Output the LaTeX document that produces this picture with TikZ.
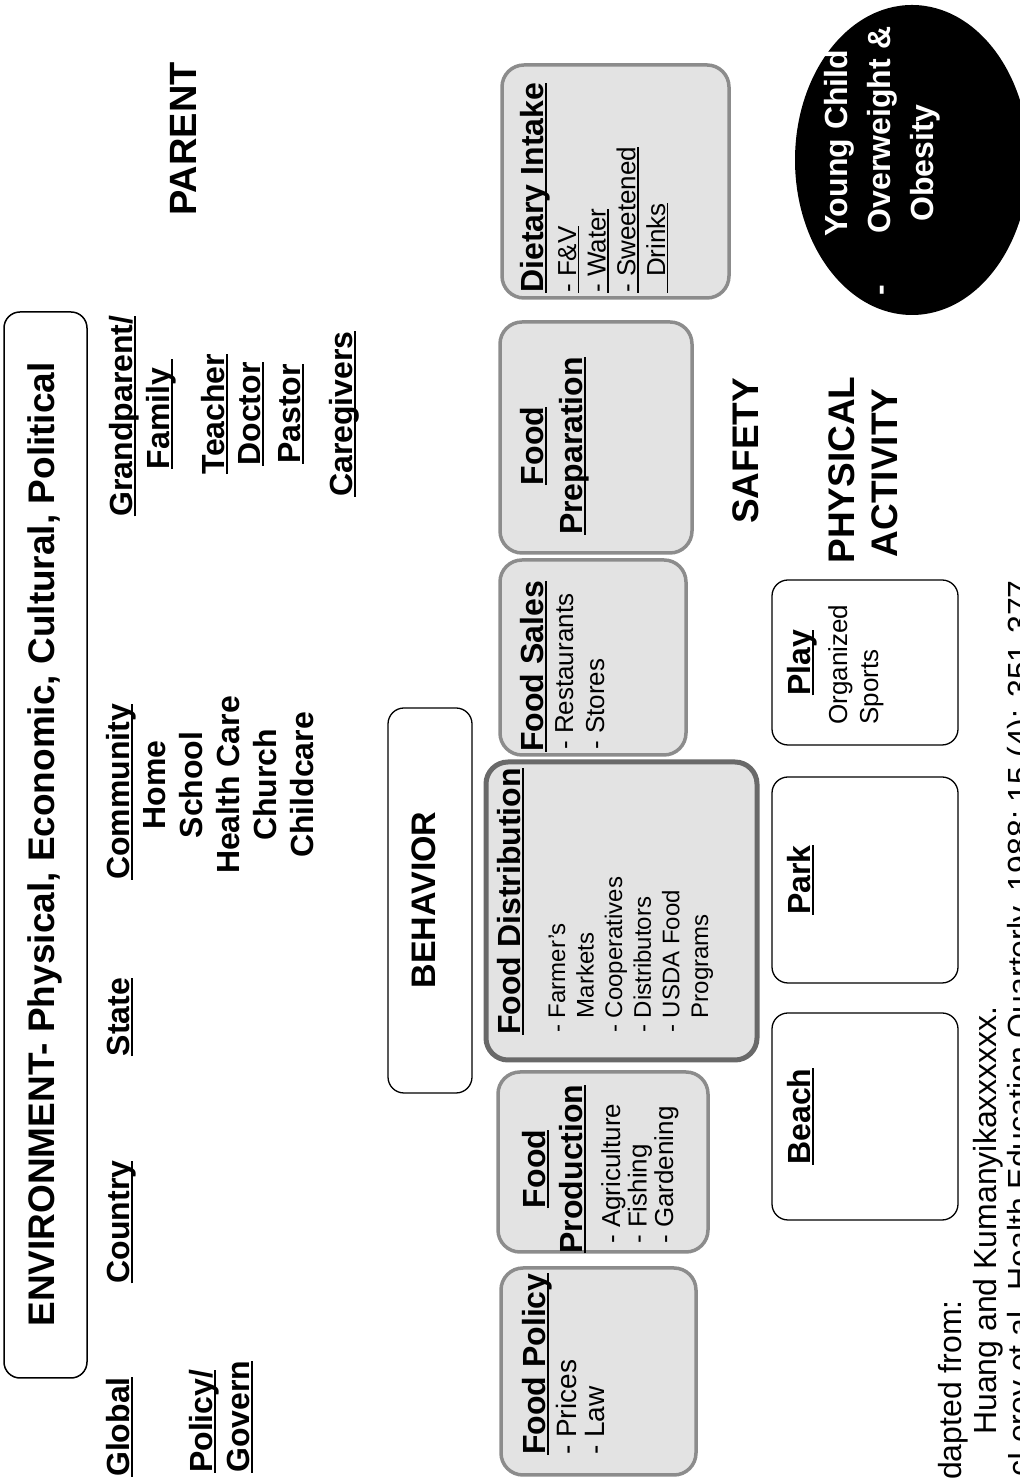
\documentclass[tikz,border=0pt]{standalone}
\usepackage{fontspec}
\setmainfont{Liberation Sans}
\usepackage{tikz}
\usetikzlibrary{shapes.geometric}
\definecolor{boxfill}{HTML}{E3E3E3}
\definecolor{boxedge}{HTML}{8C8C8C}
\newcommand{\uln}[1]{\setbox0\hbox{#1}\rlap{\rule[-0.13em]{\wd0}{0.07em}}\box0}
\tikzset{
  box/.style={draw=black, line width=1.3pt, rounded corners=16pt, fill=white, inner sep=0pt},
  gbox/.style={draw=boxedge, line width=3.5pt, rounded corners=22pt, fill=boxfill, inner sep=0pt},
  lab/.style={font=\fontsize{32}{36}\selectfont\bfseries, inner sep=0pt, anchor=base},
  big/.style={font=\fontsize{#1}{#1}\selectfont\bfseries, inner sep=0pt, anchor=base},
  big/.default=37,
  itm/.style={font=\fontsize{#1}{#1}\selectfont, inner sep=0pt, anchor=base west},
  itm/.default=25,
  cite/.style={font=\fontsize{32}{36}\selectfont, inner sep=0pt, anchor=base east},
}

\begin{document}
\begin{tikzpicture}[x=1pt, y=1pt]
\begin{scope}[rotate=90, transform shape]
  \useasboundingbox (0,0) rectangle (1478,-1020);
  \clip (0,0) rectangle (1478,-1020);
  % environment
  \node[box, line width=1.5pt, minimum width=1066, minimum height=83] (env) at (633,-45.5) {};
  \node[big] (envT) at (633.5,-54.5) {ENVIRONMENT- Physical, Economic, Cultural, Political};
  \node[lab, anchor=base west] (global) at (1,-129) {\uln{Global}};
  \foreach \n/\t/\x in {country/Country/256, state/State/461, community/Community/686}
    \node[lab] (\n) at (\x,-129) {\uln{\t}};
  \node[lab, anchor=base west] (policyG) at (5,-212) {\uln{Policy/}};
  \node[lab, anchor=base west] (govern) at (5,-249) {\uln{Govern}};
  \foreach \t [count=\i] in {Home,School,Health Care,Church,Childcare}
    \node[lab] (comm\i) at (693,{-165-37*(\i-1)}) {\t};
  \node[lab] (grand) at (1062,-132) {\uln{Grandparent/}};
  \node[lab] (family) at (1064,-169) {\uln{Family\ }};
  \foreach \n/\t/\y in {teacher/Teacher/224, doctor/Doctor/260, pastor/Pastor/300, care/Caregivers/352}
    \node[lab] (\n) at (1064,-\y) {\uln{\t}};
  \node[big=38] (parent) at (1339,-196) {PARENT};
  % behavior
  \node[box, minimum width=385, minimum height=84] (behav) at (577.5,-430) {};
  \node[big=34] (behavT) at (578,-435) {BEHAVIOR};
  \foreach \n/\xa/\xb/\ya/\yb in {policy/3/210/501/696, production/226/406/498/708,
      sales/723/918/500/686, prep/925/1156/500/692, diet/1180/1413/502/729}
    \node[gbox, minimum width=\xb-\xa, minimum height=\yb-\ya] (\n) at ({(\xa+\xb)/2},{-(\ya+\yb)/2}) {};
  \node[gbox, draw=boxedge!75!black, line width=5pt, minimum width=298, minimum height=271] (distrib) at (567,-621.5) {};
  \node[lab, anchor=base west] (policyT) at (23,-545) {\uln{Food Policy}};
  \node[itm=28] (prices) at (23,-576) {- Prices};
  \node[itm=28] (law) at (23,-604) {- Law};
  \node[lab] (prodT) at (309,-545) {\uln{Food}};
  \node[lab] (prodT2) at (309,-582) {\uln{Production}};
  \foreach \t [count=\i] in {Agriculture,Fishing,Gardening}
    \node[itm=26] (prod\i) at (234,{-620-26.5*(\i-1)}) {- \t};
  \node[lab, anchor=base west] (distT) at (443,-520) {\uln{Food Distribution}};
  \foreach \t [count=\i] in {- Farmer's,\hphantom{- }Markets,- Cooperatives,- Distributors,- USDA Food,\hphantom{- }Programs}
    \node[itm=24] (dist\i) at (445,{-565-28.6*(\i-1)}) {\t};
  \node[lab, anchor=base west] (salesT) at (726,-543) {\uln{Food Sales}};
  \node[itm=26] (rest) at (728,-573) {- Restaurants};
  \node[itm=26] (stores) at (728,-604) {- Stores};
  \node[lab] (prepT) at (1032,-543) {\uln{Food}};
  \node[lab] (prepT2) at (1032,-582) {\uln{Preparation}};
  \node[lab, anchor=base west] (dietT) at (1185,-543) {\uln{Dietary Intake}};
  \foreach \t [count=\i] in {- F\&V,- Water,- Sweetened,\hphantom{- }Drinks}
    \node[itm=26] (diet\i) at (1185,{-576-29.7*(\i-1)}) {\uln{\t}};
  % places
  \foreach \n/\t/\xa/\xb in {beach/Beach/258/465, park/Park/495/701, play/Play/733/898}{
    \node[box, minimum width=\xb-\xa, minimum height=186] (\n) at ({(\xa+\xb)/2},-865) {};
    \node[lab] (\n T) at ({(\xa+\xb)/2},-810) {\uln{\t}};
  }
  \node[itm=26] (organized) at (753,-847) {Organized};
  \node[itm=26] (sports) at (753,-878) {Sports};
  \node[big] (safety) at (1027,-758) {SAFETY};
  \node[big] (physical) at (1008,-854) {PHYSICAL};
  \node[big] (activity) at (1005,-897) {ACTIVITY};
  % outcome
  \node[ellipse, fill=black, inner sep=0pt, minimum width=310, minimum height=234] (child) at (1318,-912) {};
  \node[lab, text=white] (young) at (1335,-847) {Young Child};
  \node[lab, text=white] (dash) at (1188,-890) {-};
  \node[lab, text=white] (over) at (1348,-890) {Overweight \&};
  \node[lab, text=white] (obes) at (1315,-933) {Obesity};
  \node[cite] (adapted) at (178,-961) {Adapted from:};
  \node[cite] (huang) at (472,-996) {Huang and Kumanyikaxxxxxx.};
  \node[cite] (mcleroy) at (898,-1030) {McLeroy et al. Health Education Quarterly, 1988; 15 (4): 351-377};
\end{scope}
\end{tikzpicture}
\end{document}
